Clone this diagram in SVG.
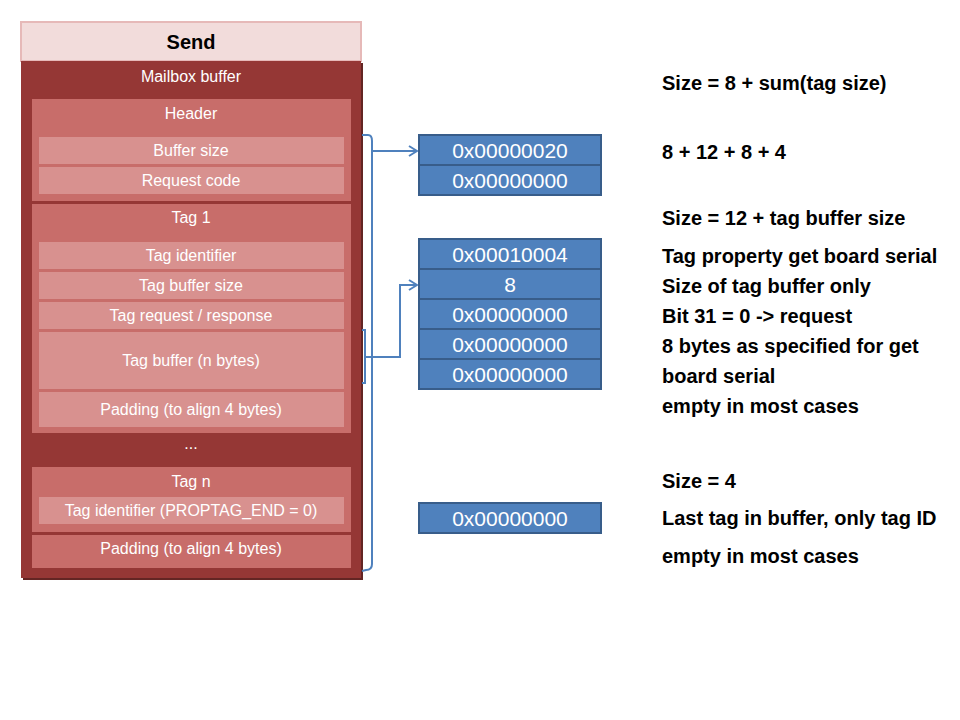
<svg xmlns="http://www.w3.org/2000/svg" width="960" height="720" viewBox="0 0 960 720">
<defs>
<style>
.grp{fill:#c86d6a}
.row{fill:#d8918f}
.wt{font-family:"Liberation Sans",Arial,sans-serif;font-size:16px;fill:#ffffff;text-anchor:middle}
.bx{fill:#4f81bd;stroke:#385d8a;stroke-width:2}
.bt{font-family:"Liberation Sans",Arial,sans-serif;font-size:21px;fill:#ffffff;text-anchor:middle}
.rt{font-family:"Liberation Sans",Arial,sans-serif;font-size:20px;font-weight:bold;fill:#000000}
.con{fill:none;stroke:#4f81bd;stroke-width:2}
</style>
<marker id="arr" viewBox="0 0 10 12" refX="9" refY="6" markerWidth="10" markerHeight="12" markerUnits="userSpaceOnUse" orient="auto">
<path d="M1,1 L9,6 L1,11" fill="none" stroke="#4f81bd" stroke-width="2"/>
</marker>
</defs>
<rect width="960" height="720" fill="#ffffff"/>

<g id="send">
<rect x="21" y="22" width="340" height="39" fill="#f2dcdb" stroke="#e6b9b8" stroke-width="2"/>
<text x="191" y="49" font-family="'Liberation Sans',Arial,sans-serif" font-size="20" font-weight="bold" text-anchor="middle" fill="#000">Send</text>
</g>

<g id="mailbox">
<rect x="23" y="63" width="340" height="517" fill="#632523"/>
<rect x="21" y="61" width="340" height="517" fill="#953735"/>
<text class="wt" x="191" y="82">Mailbox buffer</text>
</g>

<g id="header">
<rect class="grp" x="32" y="99" width="319" height="102"/>
<text class="wt" x="191" y="119">Header</text>
</g>
<g id="buffer-size">
<rect class="row" x="39" y="137" width="305" height="27"/>
<text class="wt" x="191" y="156">Buffer size</text>
</g>
<g id="request-code">
<rect class="row" x="39" y="167" width="305" height="27"/>
<text class="wt" x="191" y="186">Request code</text>
</g>

<g id="tag1">
<rect class="grp" x="32" y="204" width="319" height="229"/>
<text class="wt" x="191" y="223">Tag 1</text>
</g>
<g id="tag-identifier">
<rect class="row" x="39" y="242" width="305" height="27"/>
<text class="wt" x="191" y="261">Tag identifier</text>
</g>
<g id="tag-buffer-size">
<rect class="row" x="39" y="272" width="305" height="27"/>
<text class="wt" x="191" y="291">Tag buffer size</text>
</g>
<g id="tag-request-response">
<rect class="row" x="39" y="302" width="305" height="27"/>
<text class="wt" x="191" y="321">Tag request / response</text>
</g>
<g id="tag-buffer">
<rect class="row" x="39" y="332" width="305" height="57"/>
<text class="wt" x="191" y="366">Tag buffer (n bytes)</text>
</g>
<g id="tag1-padding">
<rect class="row" x="39" y="392" width="305" height="35"/>
<text class="wt" x="191" y="415">Padding (to align 4 bytes)</text>
</g>

<g id="ellipsis">
<text class="wt" x="191" y="449">...</text>
</g>

<g id="tagn">
<rect class="grp" x="32" y="467" width="319" height="65"/>
<text class="wt" x="191" y="487">Tag n</text>
</g>
<g id="tagn-identifier">
<rect class="row" x="39" y="497" width="305" height="27"/>
<text class="wt" x="191" y="516">Tag identifier  (PROPTAG_END = 0)</text>
</g>
<g id="final-padding">
<rect class="grp" x="32" y="535" width="319" height="33"/>
<text class="wt" x="191" y="554">Padding (to align 4 bytes)</text>
</g>

<g id="val-buffer-size">
<rect class="bx" x="419" y="135" width="182" height="30"/>
<text class="bt" x="510" y="158">0x00000020</text>
</g>
<g id="val-request-code">
<rect class="bx" x="419" y="165" width="182" height="30"/>
<text class="bt" x="510" y="188">0x00000000</text>
</g>
<g id="val-tag-id">
<rect class="bx" x="419" y="239" width="182" height="30"/>
<text class="bt" x="510" y="262">0x00010004</text>
</g>
<g id="val-tag-size">
<rect class="bx" x="419" y="269" width="182" height="30"/>
<text class="bt" x="510" y="292">8</text>
</g>
<g id="val-tag-req">
<rect class="bx" x="419" y="299" width="182" height="30"/>
<text class="bt" x="510" y="322">0x00000000</text>
</g>
<g id="val-tag-buf1">
<rect class="bx" x="419" y="329" width="182" height="30"/>
<text class="bt" x="510" y="352">0x00000000</text>
</g>
<g id="val-tag-buf2">
<rect class="bx" x="419" y="359" width="182" height="30"/>
<text class="bt" x="510" y="382">0x00000000</text>
</g>
<g id="val-end">
<rect class="bx" x="419" y="503" width="182" height="30"/>
<text class="bt" x="510" y="526">0x00000000</text>
</g>

<g id="notes">
<text class="rt" x="662" y="90">Size = 8 + sum(tag size)</text>
<text class="rt" x="662" y="159">8 + 12 + 8 + 4</text>
<text class="rt" x="662" y="225">Size = 12 + tag buffer size</text>
<text class="rt" x="662" y="263">Tag property get board serial</text>
<text class="rt" x="662" y="293">Size of tag buffer only</text>
<text class="rt" x="662" y="323">Bit 31 = 0 -&gt; request</text>
<text class="rt" x="662" y="353">8 bytes as specified for get</text>
<text class="rt" x="662" y="383">board serial</text>
<text class="rt" x="662" y="413">empty in most cases</text>
<text class="rt" x="662" y="488">Size = 4</text>
<text class="rt" x="662" y="525">Last tag in buffer, only tag ID</text>
<text class="rt" x="662" y="563">empty in most cases</text>
</g>

<g id="connectors">
<path class="con" d="M362,135 L368,135 Q372,135 372,141 L372,564 Q372,570 366,570 L362,571"/>
<path class="con" d="M372,151 L417,151" marker-end="url(#arr)"/>
<path class="con" d="M362,330 L365,330 L365,383 L362,383"/>
<path class="con" d="M365,357 L400,357 L400,285 L417,285" marker-end="url(#arr)"/>
</g>
</svg>
